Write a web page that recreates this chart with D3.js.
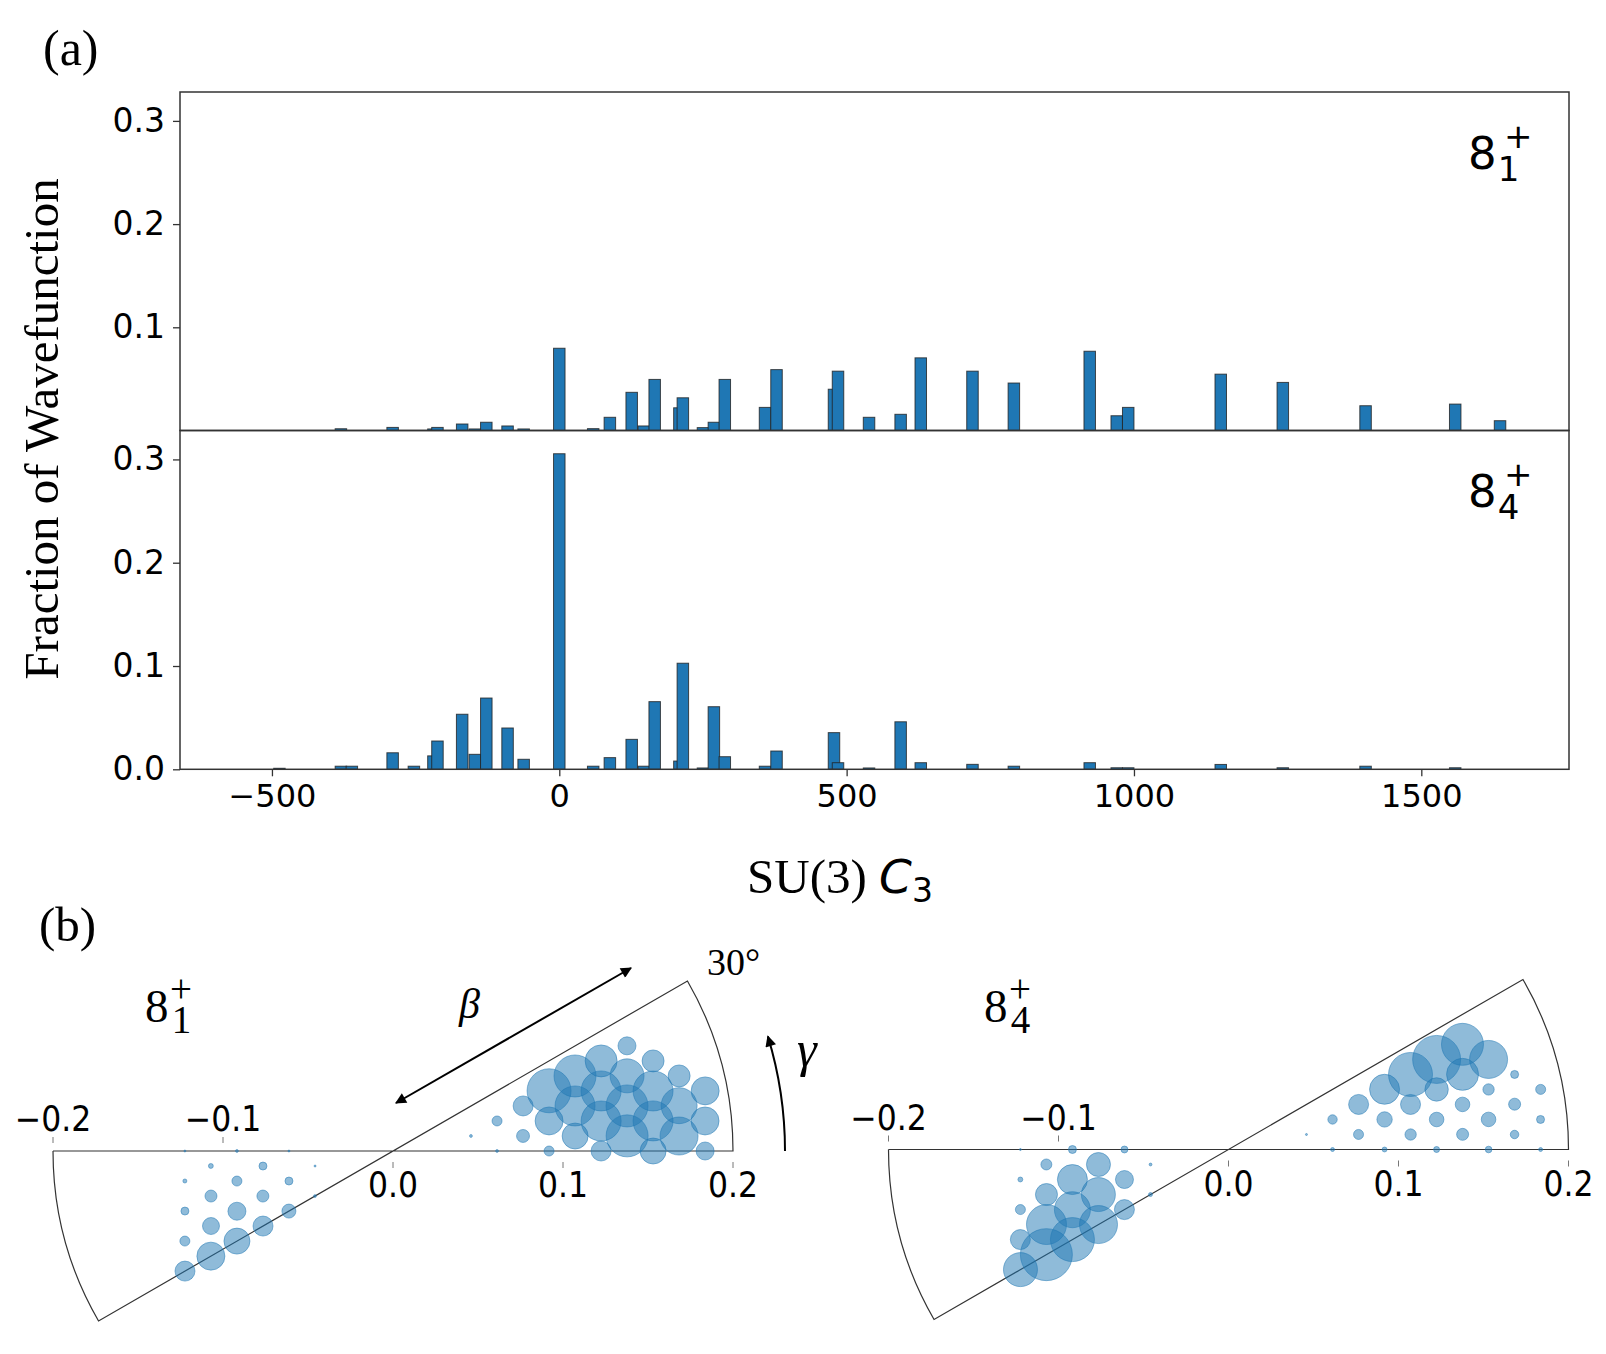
<!DOCTYPE html>
<html>
<head>
<meta charset="utf-8">
<script src="https://cdn.jsdelivr.net/npm/d3@7"></script>
<style>
  body { margin: 0; background: #fff; }
  .tk text { font-family: 'DejaVu Sans', sans-serif; fill: #000; }
  .tk line { stroke: #333; stroke-width: 1.3; }
  .serif { font-family: 'Liberation Serif', 'Times New Roman', serif; fill: #000; }
  .sans { font-family: 'DejaVu Sans', sans-serif; fill: #000; }
</style>
</head>
<body>
<svg id="fig" width="1606" height="1354"></svg>
<script>
'use strict'

// (a) SU(3) C3 values and fraction of wavefunction for each state
var c3Values = [-487, -380, -361, -290, -253, -219, -212, -169, -147, -127, -90, -62, 0, 59, 88, 126, 147, 166, 209, 215,
  250, 269, 288, 358, 378, 478, 485, 539, 594, 629, 719, 791, 923, 970, 990, 1151, 1259, 1403, 1559, 1637];
var frac81 = [0, 0.0017, 0, 0.003, 0, 0.0015, 0.003, 0.0063, 0.0015, 0.008, 0.0044, 0.0015, 0.0797, 0.0018, 0.0128, 0.037, 0.0044, 0.0495, 0.022, 0.0317,
  0.0028, 0.008, 0.0495, 0.0224, 0.059, 0.040, 0.0575, 0.0128, 0.0157, 0.0704, 0.0575, 0.046, 0.0768, 0.0143, 0.0224, 0.0546, 0.0466, 0.024, 0.0256, 0.0095];
var frac84 = [0.001, 0.003, 0.003, 0.016, 0.003, 0.013, 0.0274, 0.0533, 0.0145, 0.069, 0.040, 0.0097, 0.3055, 0.003, 0.0113, 0.029, 0.003, 0.0655, 0.008, 0.1027,
  0.0013, 0.0606, 0.0122, 0.003, 0.0177, 0.0355, 0.0064, 0.0013, 0.046, 0.0064, 0.0048, 0.003, 0.0064, 0.0015, 0.0015, 0.0047, 0.0015, 0.003, 0.0015, 0];
var xTicks = [-500, 0, 500, 1000, 1500];
var yTicksTop = [0.1, 0.2, 0.3];
var yTicksBottom = [0, 0.1, 0.2, 0.3];

// (b) beta-gamma points (beta signed, gamma in degrees) and weights in %
var betaVals = [0.0467, 0.0612, 0.0637, 0.0770, 0.0810, 0.0918, 0.0935, 0.0984, 0.1075, 0.1103, 0.1158, 0.1224, 0.1237, 0.1274, 0.1334,
  0.1380, 0.1402, 0.1446, 0.1509, 0.1530, 0.1540, 0.1570, 0.1619, 0.1685, 0.1704, 0.1740, 0.1836, 0.1844, 0.1870,
  -0.1224, -0.0918, -0.0612, -0.1075, -0.0770, -0.0467, -0.1237, -0.0935, -0.0637, -0.1103, -0.0810, -0.0530, -0.1274, -0.0984,
  -0.0707, -0.1158, -0.0883, -0.1334, -0.1060, -0.1237, -0.1413];
var gammaVals = [10.9, 0, 16.1, 6.6, 19.1, 0, 10.9, 21.1, 4.7, 13.9, 22.4, 0, 8.2, 16.1, 23.4,
  3.7, 10.9, 17.8, 24.2, 0, 6.6, 13.0, 19.1, 3.0, 9.0, 14.7, 0, 5.5, 10.9,
  0, 0, 0, 4.7, 6.6, 10.9, 8.2, 10.9, 16.1, 13.9, 19.1, 30, 16.1, 21.1,
  30, 22.4, 30, 23.4, 30, 30, 30];
var weight81 = [0.02, 0.02, 0.25, 0.42, 1.0, 0.25, 1.96, 4.84, 1.69, 4.0, 4.41, 1.0, 4.0, 4.0, 2.56,
  4.41, 4.41, 2.89, 0.81, 1.69, 4.0, 4.0, 1.21, 3.61, 3.24, 1.21, 0.81, 1.96, 1.96,
  0.01, 0.02, 0.01, 0.06, 0.16, 0.01, 0.04, 0.25, 0.16, 0.36, 0.36, 0.02, 0.16, 0.81,
  0.49, 0.72, 1.0, 0.25, 1.69, 1.96, 1.0];
var weight84 = [0.01, 0.04, 0.22, 0.25, 1.0, 0.06, 0.59, 2.25, 0.32, 1.0, 4.84, 0.09, 0.53, 1.37, 5.76,
  0.36, 0.53, 2.56, 4.41, 0.11, 0.53, 0.32, 3.61, 0.18, 0.36, 0.16, 0.04, 0.16, 0.25,
  0.01, 0.16, 0.12, 0.3, 1.44, 0.02, 0.06, 2.25, 0.81, 1.21, 2.89, 0.04, 0.25, 3.24,
  1.0, 4.0, 3.61, 1.0, 4.84, 6.76, 2.89];
var polarTicks = [-0.2, -0.1, 0, 0.1, 0.2];

(function(){
var svg = d3.select('#fig');
var blue = '#1f77b4';

// ---------------- (a) ----------------
var pL = 180, pR = 1569, pT = 92, pM = 430.5, pB = 769.3;
var x = d3.scaleLinear().domain([-660, 1757]).range([pL, pR]);
var yTop = d3.scaleLinear().domain([0, 0.328]).range([pM, pT]);
var yBot = d3.scaleLinear().domain([0, 0.328]).range([pB, pM]);
var barW = x(20) - x(0);

function drawBars(vals, y){
  var idx = d3.range(c3Values.length).filter(function(i){ return vals[i] > 0; });
  svg.append('g').selectAll('rect')
    .data(idx)
    .enter()
    .append('rect')
    .attr('x', function(i){ return x(c3Values[i]) - barW / 2; })
    .attr('y', function(i){ return y(vals[i]); })
    .attr('width', barW)
    .attr('height', function(i){ return y(0) - y(vals[i]); })
    .attr('fill', blue)
    .attr('stroke', '#222')
    .attr('stroke-opacity', 0.8)
    .attr('stroke-width', 1);
}
drawBars(frac81, yTop);
drawBars(frac84, yBot);

// frames
var frameG = svg.append('g').attr('fill', 'none').attr('stroke', '#333').attr('stroke-width', 1.5);
frameG.append('rect').attr('x', pL).attr('y', pT).attr('width', pR - pL).attr('height', pM - pT);
frameG.append('rect').attr('x', pL).attr('y', pM).attr('width', pR - pL).attr('height', pB - pM);

var f1 = d3.format('.1f');
svg.append('g').attr('class', 'tk').attr('font-size', 33).attr('transform', 'translate(' + pL + ',0)')
  .call(d3.axisLeft(yTop).tickValues(yTicksTop).tickSize(7).tickPadding(8).tickFormat(f1))
  .call(function(g){ g.select('.domain').remove(); g.selectAll('text').attr('font-size', 33); });
svg.append('g').attr('class', 'tk').attr('transform', 'translate(' + pL + ',0)')
  .call(d3.axisLeft(yBot).tickValues(yTicksBottom).tickSize(7).tickPadding(8).tickFormat(f1))
  .call(function(g){ g.select('.domain').remove(); g.selectAll('text').attr('font-size', 33); });
svg.append('g').attr('class', 'tk').attr('transform', 'translate(0,' + pB + ')')
  .call(d3.axisBottom(x).tickValues(xTicks).tickSize(7).tickPadding(8).tickFormat(d3.format('d')))
  .call(function(g){ g.select('.domain').remove(); g.selectAll('text').attr('font-size', 32); });

// state labels: 8 with subscript and superscript +
function stateLabel(xx, yy, sub, big, small, serif){
  var t = svg.append('text').attr('class', serif ? 'serif' : 'sans');
  t.append('tspan').attr('x', xx).attr('y', yy).attr('font-size', big).text('8');
  t.append('tspan').attr('x', xx + big * (serif ? 0.57 : 0.66)).attr('y', yy + big * (serif ? 0.24 : 0.27))
    .attr('font-size', small).text(sub);
  t.append('tspan').attr('x', xx + big * (serif ? 0.53 : 0.8)).attr('y', yy - big * (serif ? 0.43 : 0.47))
    .attr('font-size', small).text('+');
}
stateLabel(1468, 169, '1', 45, 34, false);
stateLabel(1468, 507, '4', 45, 34, false);

svg.append('text').attr('class', 'serif').attr('font-size', 49)
  .attr('text-anchor', 'middle')
  .attr('transform', 'translate(58,429) rotate(-90)')
  .text('Fraction of Wavefunction');

var xl = svg.append('text').attr('text-anchor', 'middle').attr('x', 840).attr('y', 893);
xl.append('tspan').attr('class', 'serif').attr('font-size', 49).text('SU(3) ');
xl.append('tspan').attr('class', 'sans').attr('font-size', 47).attr('font-style', 'italic').text('C');
xl.append('tspan').attr('class', 'sans').attr('font-size', 33).attr('dy', 9).text('3');

svg.append('text').attr('class', 'serif').attr('font-size', 50).attr('x', 43).attr('y', 65).text('(a)');
svg.append('text').attr('class', 'serif').attr('font-size', 49).attr('x', 39).attr('y', 941).text('(b)');

// ---------------- (b) ----------------
var defs = svg.append('defs');
defs.append('marker').attr('id', 'ah').attr('viewBox', '0 0 10 10').attr('refX', 9).attr('refY', 5)
  .attr('markerWidth', 15).attr('markerHeight', 11).attr('markerUnits', 'userSpaceOnUse')
  .attr('orient', 'auto-start-reverse')
  .append('path').attr('d', 'M0,0 L10,5 L0,10 z').attr('fill', '#000');

var rScale = d3.scaleLinear().domain([-0.2, 0.2]).range([-340, 340]);
var size = d3.scaleSqrt().domain([0, 1]).range([0, 10]);
var rad = Math.PI / 180;

function drawPolar(cx, cy, weights){
  var g = svg.append('g');
  var R = rScale(0.2), a30 = 30 * rad;
  var p = d3.path();
  p.moveTo(cx - R, cy);
  p.lineTo(cx + R, cy);
  p.arc(cx, cy, R, 0, -a30, true);
  p.lineTo(cx - R * Math.cos(a30), cy + R * Math.sin(a30));
  p.arc(cx, cy, R, Math.PI - a30, Math.PI, false);
  g.append('path').attr('d', p.toString()).attr('fill', 'none').attr('stroke', '#333').attr('stroke-width', 1.2);

  g.selectAll('circle')
    .data(d3.range(betaVals.length))
    .enter()
    .append('circle')
    .attr('cx', function(i){ return cx + rScale(betaVals[i]) * Math.cos(gammaVals[i] * rad); })
    .attr('cy', function(i){ return cy - rScale(betaVals[i]) * Math.sin(gammaVals[i] * rad); })
    .attr('r', function(i){ return size(weights[i]); })
    .attr('fill', blue).attr('fill-opacity', 0.5)
    .attr('stroke', blue).attr('stroke-opacity', 0.5).attr('stroke-width', 1);

  polarTicks.forEach(function(t){
    var tx = cx + rScale(t);
    var neg = t < 0;
    g.append('line').attr('x1', tx).attr('x2', tx)
      .attr('y1', neg ? cy - 14 : cy + 11).attr('y2', neg ? cy - 8 : cy + 17)
      .attr('stroke', '#777').attr('stroke-width', 1);
    g.append('text').attr('x', tx).attr('y', neg ? cy - 32 : cy + 34)
      .attr('text-anchor', 'middle').attr('dominant-baseline', 'central')
      .style('font-family', "'DejaVu Sans Condensed', 'DejaVu Sans', sans-serif")
      .style('font-stretch', 'condensed')
      .attr('font-size', 35)
      .text(d3.format('.1f')(t));
  });
  return g;
}

var cxL = 393, cyL = 1151, cxR = 1228.5, cyR = 1149.5;
drawPolar(cxL, cyL, weight81);
drawPolar(cxR, cyR, weight84);

stateLabel(145, 1022, '1', 47, 39, true);
stateLabel(984, 1022, '4', 47, 39, true);

// beta arrow
svg.append('line').attr('x1', 396).attr('y1', 1103).attr('x2', 631).attr('y2', 968)
  .attr('stroke', '#000').attr('stroke-width', 2)
  .attr('marker-start', 'url(#ah)').attr('marker-end', 'url(#ah)');
svg.append('text').attr('class', 'serif').attr('font-style', 'italic').attr('font-size', 42)
  .attr('x', 459).attr('y', 1018).text('β');

// gamma arrow
var gr = 392, ga = 17 * rad;
var gp = d3.path();
gp.moveTo(cxL + gr, cyL);
gp.arc(cxL, cyL, gr, 0, -ga, true);
svg.append('path').attr('d', gp.toString()).attr('fill', 'none').attr('stroke', '#000').attr('stroke-width', 2)
  .attr('marker-end', 'url(#ah)');
svg.append('text').attr('class', 'serif').attr('font-style', 'italic').attr('font-size', 50)
  .attr('x', 797).attr('y', 1066).text('γ');

svg.append('text').attr('class', 'serif').attr('font-size', 38).attr('x', 707).attr('y', 975).text('30°');
})();
</script>
</body>
</html>
